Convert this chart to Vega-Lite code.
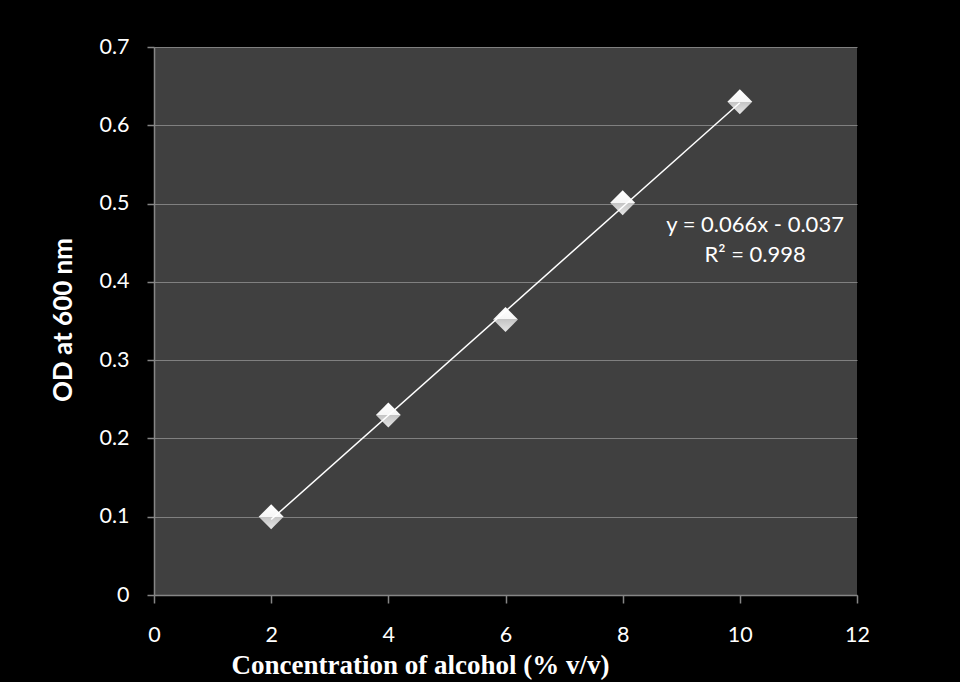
{
  "$schema": "https://vega.github.io/schema/vega-lite/v6.json",
  "width": 703,
  "height": 548,
  "autosize": {"type": "none"},
  "padding": {"left": 154, "top": 47, "right": 103, "bottom": 87},
  "background": "#000000",
  "config": {
    "view": {"fill": "#404040", "stroke": null},
    "axis": {
      "labelFont": "Lato",
      "labelFontSize": 21.5,
      "labelColor": "#ffffff",
      "gridColor": "#808080",
      "gridWidth": 1,
      "domainColor": "#868686",
      "domainWidth": 1.5,
      "tickColor": "#868686",
      "tickWidth": 1.5
    }
  },
  "datasets": {
    "points": [
      {"conc": 2, "od": 0.1},
      {"conc": 4, "od": 0.23},
      {"conc": 6, "od": 0.352},
      {"conc": 8, "od": 0.501},
      {"conc": 10, "od": 0.63}
    ],
    "labels": [
      {"label": "y = 0.066x - 0.037", "conc": 10.26, "od": 0.472},
      {"label": "R² = 0.998", "conc": 10.26, "od": 0.4343}
    ]
  },
  "encoding": {
    "x": {
      "field": "conc",
      "type": "quantitative",
      "scale": {"domain": [0, 12], "nice": false, "zero": false},
      "axis": {
        "title": "Concentration of alcohol (% v/v)",
        "titleFont": "Liberation Serif",
        "titleFontSize": 27,
        "titleFontWeight": "bold",
        "titleColor": "#ffffff",
        "titleX": 266,
        "titleY": 78,
        "titleAlign": "center",
        "titleBaseline": "alphabetic",
        "values": [0, 2, 4, 6, 8, 10, 12],
        "grid": false,
        "tickSize": 8,
        "labelPadding": 21,
        "labelFlush": false
      }
    },
    "y": {
      "field": "od",
      "type": "quantitative",
      "scale": {"domain": [0, 0.7], "nice": false},
      "axis": {
        "title": "OD at 600 nm",
        "titleFont": "Lato",
        "titleFontSize": 26,
        "titleFontWeight": "bold",
        "titleColor": "#ffffff",
        "titleAngle": 270,
        "titleX": -90.5,
        "titleY": 272.5,
        "titleAlign": "center",
        "titleBaseline": "middle",
        "values": [0, 0.1, 0.2, 0.3, 0.4, 0.5, 0.6, 0.7],
        "labelExpr": "datum.value == 0 ? '0' : format(datum.value, '.1f')",
        "grid": true,
        "tickSize": 7,
        "labelPadding": 18,
        "labelFlush": false
      }
    }
  },
  "layer": [
    {
      "data": {"name": "points"},
      "mark": {
        "type": "point",
        "shape": "diamond",
        "size": 620,
        "filled": true,
        "opacity": 1,
        "strokeWidth": 0,
        "fill": {
          "gradient": "linear",
          "x1": 0, "y1": 0, "x2": 0, "y2": 1,
          "stops": [
            {"offset": 0, "color": "#ffffff"},
            {"offset": 0.5, "color": "#f6f6f6"},
            {"offset": 0.5, "color": "#c4c4c4"},
            {"offset": 1, "color": "#e6e6e6"}
          ]
        }
      }
    },
    {
      "data": {"name": "points"},
      "transform": [{"regression": "od", "on": "conc"}],
      "mark": {"type": "line", "color": "#ffffff", "strokeWidth": 1.5}
    },
    {
      "data": {"name": "labels"},
      "mark": {
        "type": "text",
        "font": "Lato",
        "fontSize": 22,
        "color": "#ffffff",
        "align": "center",
        "baseline": "middle"
      },
      "encoding": {"text": {"field": "label", "type": "nominal"}}
    }
  ]
}
